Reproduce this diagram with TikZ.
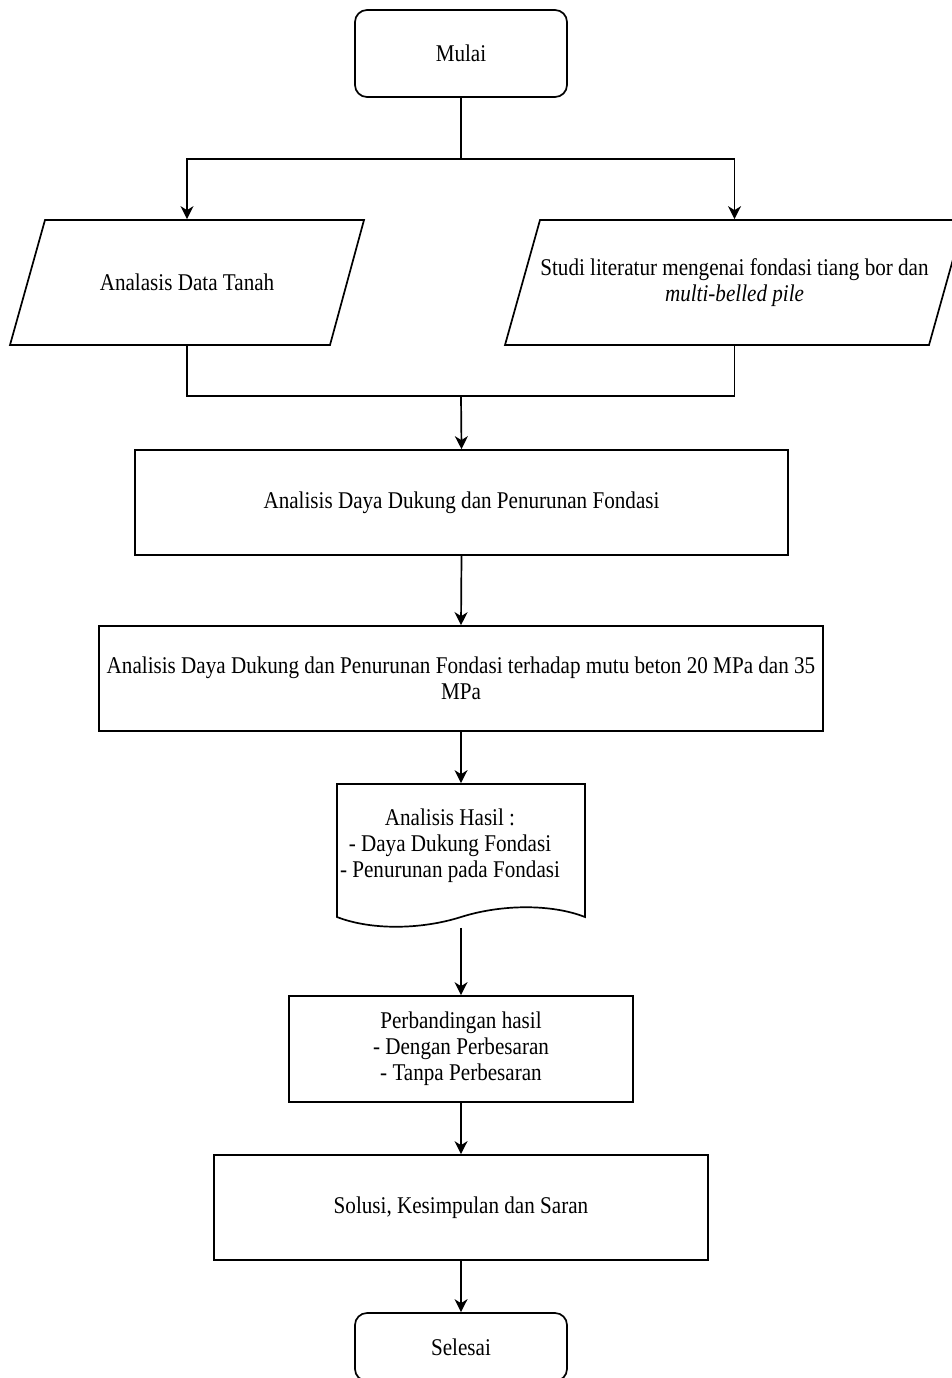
\documentclass[tikz,border=0pt]{standalone}
\usepackage{fontspec}
\setmainfont{Liberation Serif}[FakeStretch=0.88]
\usetikzlibrary{arrows.meta}
\begin{document}
\begin{tikzpicture}[x=1pt,y=-1pt,line width=1.7pt,
  >={Stealth[length=13pt,width=13pt,inset=4pt]},
  txt/.style={font=\fontsize{24}{26}\selectfont,align=center,inner sep=0pt},
  boxnode/.style={draw,rectangle,txt},
  termnode/.style={draw,rectangle,rounded corners=12pt,txt},
  flow/.style={->}]
\useasboundingbox (0,0) rectangle (952,1378);
% start
\node[termnode,minimum width=212pt,minimum height=87pt] (start) at (461,53.5) {Mulai};
% parallelograms
\node[txt,minimum width=320pt,minimum height=125pt] (data) at (187,282.5) {Analasis Data Tanah};
\draw (45,220) -- (364,220) -- (330,345) -- (10,345) -- cycle;
\node[txt,minimum width=390pt,minimum height=125pt] (studi) at (734.5,282.5) {Studi literatur mengenai fondasi tiang bor dan\\\textit{multi-belled pile}};
\draw (540,220) -- (964,220) -- (929,345) -- (505,345) -- cycle;
% boxes
\node[boxnode,minimum width=653pt,minimum height=105pt] (b1) at (461.5,502.5) {Analisis Daya Dukung dan Penurunan Fondasi};
\node[boxnode,minimum width=724pt,minimum height=105pt] (b2) at (461,678.5) {Analisis Daya Dukung dan Penurunan Fondasi terhadap mutu beton 20 MPa dan 35\\MPa};
% document
\node[minimum width=248pt,minimum height=133pt,inner sep=0pt] (doc) at (461,850.5) {};
\draw (337,784) -- (585,784) -- (585,917)
  .. controls (552,904) and (502,904) .. (461,917)
  .. controls (420,930) and (370,930) .. (337,917) -- cycle;
\node[txt] (doctext) at (450,846) {Analisis Hasil :\\- Daya Dukung Fondasi\\- Penurunan pada Fondasi};
\node[boxnode,minimum width=344pt,minimum height=106pt] (b3) at (461,1049) {Perbandingan hasil\\- Dengan Perbesaran\\- Tanpa Perbesaran};
\node[boxnode,minimum width=494pt,minimum height=105pt] (b4) at (461,1207.5) {Solusi, Kesimpulan dan Saran};
\node[termnode,minimum width=212pt,minimum height=68pt] (end) at (461,1347) {Selesai};
% connectors
\coordinate (split) at (461,159);
\coordinate (join) at (461,396);
\draw (start.south) -- (split);
\draw[flow] (split) -| (data.north);
\draw[flow] (split) -| (studi.north);
\draw (data.south) |- (join);
\draw (studi.south) |- (join);
\draw[flow] (join) -- (b1.north);
\draw[flow] (b1.south) -- (b2.north);
\draw[flow] (b2.south) -- (doc.north);
\draw[flow] ([yshift=-10pt]doc.south) -- (b3.north);
\draw[flow] (b3.south) -- (b4.north);
\draw[flow] (b4.south) -- (end.north);
\end{tikzpicture}
\end{document}
